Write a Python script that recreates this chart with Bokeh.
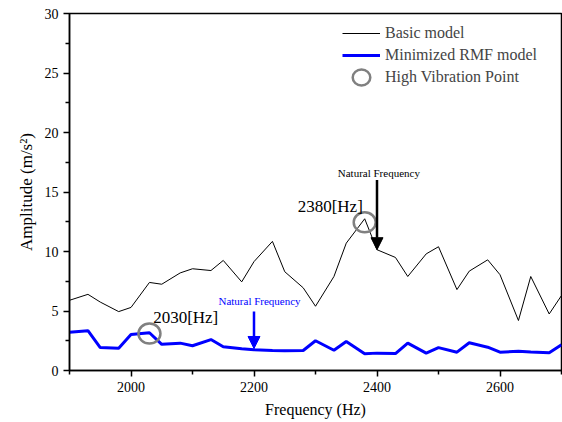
from bokeh.plotting import figure
from bokeh.models import (Range1d, Legend, LegendItem, Arrow, NormalHead, Label,
                          FixedTicker)
from bokeh.embed import file_html
from bokeh.resources import INLINE

# ---- data ----
freq = [1900, 1930, 1950, 1980, 2000, 2030, 2050, 2080, 2100, 2130, 2150,
        2180, 2200, 2230, 2250, 2280, 2300, 2330, 2350, 2380, 2400, 2430,
        2450, 2480, 2500, 2530, 2550, 2580, 2600, 2630, 2650, 2680, 2700]
basic = [5.9, 6.4, 5.75, 4.95, 5.3, 7.4, 7.25, 8.2, 8.55, 8.4, 9.25,
         7.45, 9.15, 10.85, 8.3, 6.95, 5.4, 7.9, 10.7, 12.75, 10.15, 9.5,
         7.9, 9.8, 10.4, 6.8, 8.35, 9.3, 8.05, 4.2, 7.9, 4.75, 6.3]
rmf = [3.22, 3.35, 1.93, 1.87, 3.03, 3.17, 2.2, 2.3, 2.08, 2.6, 2.0,
       1.82, 1.74, 1.68, 1.66, 1.68, 2.5, 1.7, 2.44, 1.4, 1.46, 1.42,
       2.3, 1.46, 1.92, 1.54, 2.33, 1.96, 1.54, 1.62, 1.56, 1.49, 2.16]

# ticks
x_ticks = [2000, 2200, 2400, 2600]
x_minor = [1900, 2100, 2300, 2500, 2700]
y_ticks = [0, 5, 10, 15, 20, 25, 30]
y_minor = [2.5, 7.5, 12.5, 17.5, 22.5, 27.5]
x_title = "Frequency (Hz)"
y_title = "Amplitude (m/s²)"

# high vibration points (annotation circles)
hv_freq = [2030, 2380]
hv_amp = [3.1, 12.45]
hv_labels = ["2030[Hz]", "2380[Hz]"]
hv_label_x = [2036, 2271]
hv_label_y = [4.45, 13.8]

# natural frequency arrows
nf_freq = [2400, 2200]
nf_start = [16.0, 4.96]
nf_end = [10.15, 1.85]
nf_label_x = [2403, 2209]
nf_label_y = [16.6, 5.88]
nf_colors = ["black", "#0000ff"]

FONT = "Liberation Serif"

p = figure(width=562, height=422, output_backend="svg", toolbar_location=None,
           x_range=Range1d(1900, 2700), y_range=Range1d(0, 30),
           min_border_left=69, min_border_right=1, min_border_top=13,
           min_border_bottom=52)

p.xgrid.visible = False
p.ygrid.visible = False
p.outline_line_color = "black"
p.outline_line_width = 1.5
p.background_fill_color = "white"
p.border_fill_color = "white"

p.xaxis.ticker = FixedTicker(ticks=x_ticks, minor_ticks=x_minor)
p.yaxis.ticker = FixedTicker(ticks=y_ticks, minor_ticks=y_minor)

for ax in (p.xaxis[0], p.yaxis[0]):
    ax.axis_line_width = 1.5
    ax.axis_line_color = "black"
    ax.major_tick_line_color = "black"
    ax.minor_tick_line_color = "black"
    ax.major_tick_line_width = 1.5
    ax.minor_tick_line_width = 1.5
    ax.major_tick_in = 0
    ax.major_tick_out = 6
    ax.minor_tick_in = 0
    ax.minor_tick_out = 4
    ax.major_label_text_font = FONT
    ax.major_label_text_font_size = "14px"
    ax.major_label_text_color = "black"
    ax.major_label_standoff = 5
    ax.axis_label_text_font = FONT
    ax.axis_label_text_font_style = "normal"
    ax.axis_label_text_color = "black"

p.xaxis.axis_label = x_title
p.xaxis.axis_label_text_font_size = "16px"
p.xaxis.axis_label_standoff = 6
p.yaxis.axis_label = y_title
p.yaxis.axis_label_text_font_size = "17px"
p.yaxis.axis_label_standoff = 6

r_basic = p.line(freq, basic, line_color="black", line_width=1)
r_rmf = p.line(freq, rmf, line_color="#0000ff", line_width=3)
r_hv = p.ellipse(hv_freq, hv_amp, width=22, height=20, width_units="screen",
                 height_units="screen", fill_color=None, line_color="#808080",
                 line_width=2.5)

for t, lx, ly in zip(hv_labels, hv_label_x, hv_label_y):
    p.add_layout(Label(x=lx, y=ly, text=t, text_baseline="middle",
                       text_align="left", text_font=FONT,
                       text_font_size="17px", text_color="black"))

for fx, ys, ye, lx, ly, c in zip(nf_freq, nf_start, nf_end, nf_label_x,
                                 nf_label_y, nf_colors):
    p.add_layout(Arrow(end=NormalHead(size=12, fill_color=c, line_color=c),
                       x_start=fx, y_start=ys, x_end=fx, y_end=ye,
                       line_width=2.5, line_color=c))
    p.add_layout(Label(x=lx, y=ly, text="Natural Frequency",
                       text_baseline="middle", text_align="center",
                       text_font=FONT, text_font_size="11px", text_color=c))

legend = Legend(items=[LegendItem(label="Basic model", renderers=[r_basic]),
                       LegendItem(label="Minimized RMF model", renderers=[r_rmf]),
                       LegendItem(label="High Vibration Point", renderers=[r_hv])],
                location=(273, 282), padding=0, spacing=0, margin=0,
                glyph_width=38, glyph_height=22, label_standoff=5,
                label_text_font=FONT, label_text_font_size="16px",
                border_line_color=None, background_fill_alpha=0)
p.add_layout(legend)

open("out.html", "w").write(file_html(p, INLINE))
